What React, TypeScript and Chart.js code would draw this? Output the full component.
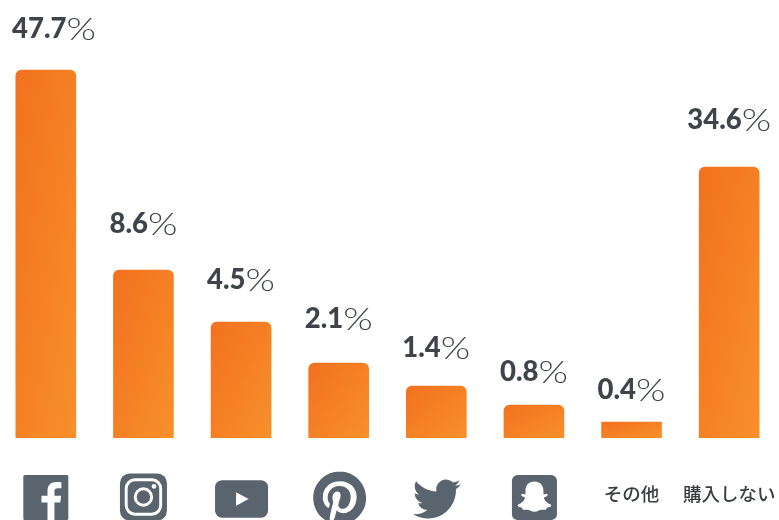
import React, { useEffect, useRef } from "react";
import { Chart, LinearScale, registerables } from "chart.js";

const categories = ["Facebook", "Instagram", "YouTube", "Pinterest", "Twitter", "Snapchat", "その他", "購入しない"];
const shares = [47.7, 8.6, 4.5, 2.1, 1.4, 0.8, 0.4, 34.6];

// The vertical axis is banded: small shares get more room than large ones.
const axisStops = [0, 0.4, 0.8, 1.4, 2.1, 4.5, 8.6, 34.6, 47.7];
const axisHeights = [0, 16, 33, 52, 75, 116, 168, 271, 368];

// Distance between a value label's centre and the top of its bar.
const labelGaps = [41, 46, 42, 44, 38, 33, 32, 47];

// Horizontal drift of each icon away from its bar's centre.
const iconNudge = [0, 0, 0.5, 1, 0.5, 0.5, 0, 0];

const INK = "#40444a";
const ICON = "#59646e";
const BAR_WIDTH = 60;

class BandedScale extends LinearScale {
  static id = "banded";
  static defaults = LinearScale.defaults;
  getPixelForValue(value: number) {
    let h = axisHeights[axisHeights.length - 1];
    for (let i = 1; i < axisStops.length; i++) {
      if (value <= axisStops[i]) {
        const t = (value - axisStops[i - 1]) / (axisStops[i] - axisStops[i - 1]);
        h = axisHeights[i - 1] + t * (axisHeights[i] - axisHeights[i - 1]);
        break;
      }
    }
    return (this as any).bottom - h;
  }
}

Chart.register(...registerables, BandedScale as any);

const TWITTER =
  "M23.953 4.57a10 10 0 01-2.825.775 4.958 4.958 0 002.163-2.723c-.951.555-2.005.959-3.127 1.184a4.92 4.92 0 00-8.384 4.482C7.69 8.095 4.067 6.13 1.64 3.162a4.822 4.822 0 00-.666 2.475c0 1.71.87 3.213 2.188 4.096a4.904 4.904 0 01-2.228-.616v.06a4.923 4.923 0 003.946 4.827 4.996 4.996 0 01-2.212.085 4.936 4.936 0 004.604 3.417 9.867 9.867 0 01-6.102 2.105c-.39 0-.779-.023-1.17-.067a13.995 13.995 0 007.557 2.209c9.053 0 13.998-7.496 13.998-13.985 0-.21 0-.42-.015-.63A9.935 9.935 0 0024 4.59z";
const PINTEREST =
  "M12.017 0C5.396 0 .029 5.367.029 11.987c0 5.079 3.158 9.417 7.618 11.162-.105-.949-.199-2.403.041-3.439.219-.937 1.406-5.957 1.406-5.957s-.359-.72-.359-1.781c0-1.663.967-2.911 2.168-2.911 1.024 0 1.518.769 1.518 1.688 0 1.029-.653 2.567-.992 3.992-.285 1.193.6 2.165 1.775 2.165 2.128 0 3.768-2.245 3.768-5.487 0-2.861-2.063-4.869-5.008-4.869-3.41 0-5.409 2.562-5.409 5.199 0 1.033.394 2.143.889 2.741.099.12.112.225.085.345-.09.375-.293 1.199-.334 1.363-.053.225-.172.271-.401.165-1.495-.69-2.433-2.878-2.433-4.646 0-3.776 2.748-7.252 7.92-7.252 4.158 0 7.392 2.967 7.392 6.923 0 4.135-2.607 7.462-6.233 7.462-1.214 0-2.354-.629-2.758-1.379l-.749 2.848c-.269 1.045-1.004 2.352-1.498 3.146 1.123.345 2.306.535 3.55.535 6.607 0 11.985-5.365 11.985-11.987C23.97 5.39 18.592.026 11.985.026L12.017 0z";
const FB_F =
  "M16.6 24v-9.3h3.1l.5-3.6h-3.6V8.8c0-1 .3-1.8 1.8-1.8h1.9V3.8c-.3 0-1.5-.1-2.8-.1-2.8 0-4.6 1.7-4.6 4.7v2.7H9.7v3.6h3.2V24z";
const GHOST =
  "M12 3.5C15 3.5 16.8 5.5 16.8 8.4L16.8 10.4L18.6 10C19.3 10.2 19.2 11 18.6 11.3L17 12C17.3 13.5 18.9 15.2 20.8 15.8C21.2 16 21 16.6 20.4 16.9L18.6 17.4L18.2 18.5L16 18.5C14.6 18.5 13.6 19.6 12 19.6C10.4 19.6 9.4 18.5 8 18.5L5.8 18.5L5.4 17.4L3.6 16.9C3 16.6 2.8 16 3.2 15.8C5.1 15.2 6.7 13.5 7 12L5.4 11.3C4.8 11 4.7 10.2 5.4 10L7.2 10.4L7.2 8.4C7.2 5.5 9 3.5 12 3.5Z";

type Ctx = CanvasRenderingContext2D;
const roundBox = (c: Ctx, x: number, y: number, w: number, h: number, r: number) => {
  c.beginPath();
  c.roundRect(x, y, w, h, r);
};

// Each icon paints inside a 24-unit square, scaled up to its pixel size.
const icons: Record<string, { size: number; cy: number; paint: (c: Ctx) => void }> = {
  Facebook: {
    size: 45, cy: 497.5,
    paint: (c) => {
      roundBox(c, 0, 0, 24, 24, 0.8);
      c.fill();
      c.fillStyle = "#fff";
      c.fill(new Path2D(FB_F));
    },
  },
  Instagram: {
    size: 47, cy: 497,
    paint: (c) => {
      roundBox(c, 0, 0, 24, 24, 5);
      c.fill();
      c.strokeStyle = "#fff";
      c.lineWidth = 1.5;
      roundBox(c, 3.2, 3.2, 17.6, 17.6, 4.5);
      c.stroke();
      c.beginPath();
      c.arc(12, 12, 4.2, 0, Math.PI * 2);
      c.stroke();
      c.fillStyle = "#fff";
      c.beginPath();
      c.arc(17.4, 6.6, 1.2, 0, Math.PI * 2);
      c.fill();
    },
  },
  YouTube: {
    size: 53, cy: 499,
    paint: (c) => {
      roundBox(c, 0, 3.5, 24, 17, 3.2);
      c.fill();
      c.fillStyle = "#fff";
      c.beginPath();
      c.moveTo(9.5, 8.9);
      c.lineTo(15.2, 12);
      c.lineTo(9.5, 15.1);
      c.closePath();
      c.fill();
    },
  },
  Pinterest: {
    size: 53, cy: 498,
    paint: (c) => c.fill(new Path2D(PINTEREST)),
  },
  Twitter: {
    size: 48, cy: 499,
    paint: (c) => c.fill(new Path2D(TWITTER)),
  },
  Snapchat: {
    size: 45, cy: 497.5,
    paint: (c) => {
      roundBox(c, 0, 0, 24, 24, 3);
      c.fill();
      c.fillStyle = "#fff";
      c.fill(new Path2D(GHOST));
    },
  },
};

const iconRow = {
  id: "iconRow",
  afterDatasetsDraw(chart: any) {
    const c: Ctx = chart.ctx;
    const x = chart.scales.x;
    categories.forEach((name, i) => {
      const icon = icons[name];
      if (!icon) return;
      const k = icon.size / 24;
      c.save();
      c.translate(x.getPixelForTick(i) + iconNudge[i] - icon.size / 2, icon.cy - icon.size / 2);
      c.scale(k, k);
      c.fillStyle = ICON;
      icon.paint(c);
      c.restore();
    });
  },
};

// The percent sign is set lighter and wider than the digits.
const PCT_STRETCH = 1.22;

const valueLabels = {
  id: "valueLabels",
  afterDatasetsDraw(chart: any) {
    const c: Ctx = chart.ctx;
    const meta = chart.getDatasetMeta(0);
    c.save();
    c.textBaseline = "middle";
    c.textAlign = "left";
    shares.forEach((v, i) => {
      const bar = meta.data[i];
      const num = v.toFixed(1);
      const numFont = "900 27.5px Lato";
      const pctFont = "300 31px Lato";
      c.font = numFont;
      const nw = c.measureText(num).width;
      c.font = pctFont;
      const pw = c.measureText("%").width * PCT_STRETCH;
      const total = nw + pw;
      // The labels stay clear of the canvas edge.
      const left = Math.max(bar.x - total / 2, 15);
      const y = bar.y - labelGaps[i] + 0.5;
      c.fillStyle = INK;
      c.font = numFont;
      c.fillText(num, left, y);
      c.font = pctFont;
      c.save();
      c.translate(left + nw, y);
      c.scale(PCT_STRETCH, 1);
      c.fillText("%", 0, 0);
      c.restore();
    });
    c.restore();
  },
};

export default function App() {
  const ref = useRef<HTMLCanvasElement>(null);
  useEffect(() => {
    const chart = new Chart(ref.current!, {
      type: "bar",
      data: {
        labels: categories,
        datasets: [
          {
            data: shares,
            barThickness: BAR_WIDTH,
            borderRadius: (ctx: any) => (shares[ctx.dataIndex] < 0.5 ? 0 : 6),
            // Corner-to-corner fill: the top-right and bottom-left corners share a tone.
            backgroundColor: (ctx: any) => {
              const chart = ctx.chart;
              const sx = chart.scales.x;
              const sy = chart.scales.y;
              const fallback = "#f47b22";
              if (!sx || !sy || ctx.dataIndex === undefined) return fallback;
              const cx = sx.getPixelForValue(ctx.dataIndex);
              const top = sy.getPixelForValue(shares[ctx.dataIndex]);
              const bottom = sy.getPixelForValue(0);
              if (![cx, top, bottom].every(Number.isFinite)) return fallback;
              const w = BAR_WIDTH;
              const h = bottom - top;
              const len = Math.hypot(w, h);
              const reach = (w * h) / len;
              const ux = h / len;
              const uy = w / len;
              const my = (top + bottom) / 2;
              const g = chart.ctx.createLinearGradient(
                cx - ux * reach,
                my - uy * reach,
                cx + ux * reach,
                my + uy * reach,
              );
              g.addColorStop(0, "#f3711f");
              g.addColorStop(1, "#f7902a");
              return g;
            },
          },
        ],
      },
      options: {
        animation: false,
        responsive: false,
        plugins: { legend: { display: false }, tooltip: { enabled: false } },
        layout: { padding: 0 },
        scales: {
          x: {
            offset: true,
            border: { display: false },
            grid: { display: false, drawTicks: false },
            afterFit: (s: any) => {
              s.height = 82;
              s.paddingLeft = 0;
              s.paddingRight = 0;
            },
            ticks: {
              padding: 45,
              autoSkip: false,
              maxRotation: 0,
              minRotation: 0,
              color: "#3a3d42",
              font: { family: "'Noto Sans CJK JP'", size: 18.5, weight: 500 },
              callback: (_v: any, i: number) => (icons[categories[i]] ? "" : categories[i]),
            },
          },
          y: { type: "banded", display: false, min: 0, max: 56 },
        },
      } as any,
      plugins: [iconRow, valueLabels],
    });
    return () => chart.destroy();
  }, []);
  return (
    <div style={{ position: "fixed", inset: 0, overflow: "hidden", background: "#fff" }}>
      <canvas ref={ref} width={781} height={520} style={{ position: "absolute", left: -3, top: 0 }} />
    </div>
  );
}
